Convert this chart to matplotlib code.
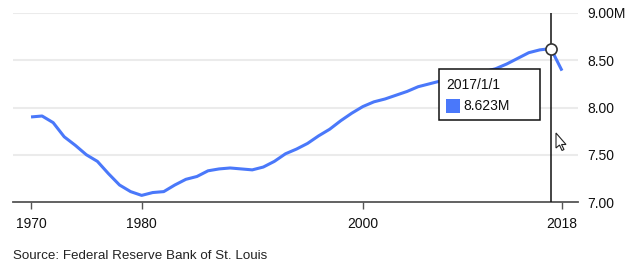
import matplotlib
matplotlib.use("Agg")
import matplotlib.pyplot as plt
from matplotlib.patches import Rectangle, Polygon

years = list(range(1970, 2019))
population_m = [
    7.90, 7.91, 7.84, 7.69, 7.60, 7.50, 7.43, 7.30, 7.18, 7.11,
    7.07, 7.10, 7.11, 7.18, 7.24, 7.27, 7.33, 7.35, 7.36, 7.35,
    7.34, 7.37, 7.43, 7.51, 7.56, 7.62, 7.70, 7.77, 7.86, 7.94,
    8.01, 8.06, 8.09, 8.13, 8.17, 8.22, 8.25, 8.28, 8.31, 8.33,
    8.36, 8.38, 8.41, 8.46, 8.52, 8.58, 8.61, 8.623, 8.39,
]
xtick_years = [1970, 1980, 2000, 2018]
xtick_labels = ["1970", "1980", "2000", "2018"]
ytick_values = [7.0, 7.5, 8.0, 8.5, 9.0]
ytick_labels = ["7.00", "7.50", "8.00", "8.50", "9.00M"]
hover_year = 2017
hover_label = "2017/1/1"
hover_value_label = "8.623M"
source_text = "Source: Federal Reserve Bank of St. Louis"

plt.rcParams['font.family'] = ['Liberation Sans', 'DejaVu Sans']

W, H = 635, 270
fig = plt.figure(figsize=(W / 100, H / 100), dpi=100)
ax = fig.add_axes([13 / W, (H - 202) / H, 565 / W, 189 / H])

LINE = "#4a78fa"
ax.plot(years, population_m, color=LINE, lw=2.2, solid_capstyle="butt",
        solid_joinstyle="round", zorder=3)

ax.set_xlim(1968.37, 2019.45)
ax.set_ylim(7.0, 9.0)

for v in ytick_values[1:]:
    ax.axhline(v, color="#ebebeb", lw=1.5, zorder=1)

for s in ["top", "left", "right"]:
    ax.spines[s].set_visible(False)
ax.spines["bottom"].set_color("#555555")
ax.spines["bottom"].set_linewidth(1.3)

ax.set_xticks(xtick_years)
ax.set_xticklabels(xtick_labels, fontsize=10, color="#111111")
ax.tick_params(axis="x", length=5, width=1, color="#555555", pad=6)

ax.yaxis.tick_right()
ax.set_yticks(ytick_values)
ax.set_yticklabels(ytick_labels, fontsize=10, color="#111111")
ax.tick_params(axis="y", length=0, pad=7)

# hover line and marker
hover_idx = years.index(hover_year)
ax.axvline(hover_year, color="#111111", lw=1.1, zorder=4)
ax.plot([hover_year], [population_m[hover_idx]], marker="o", ms=8,
        mfc="white", mec="#333333", mew=1.2, zorder=6)

# tooltip (figure pixel coordinates)
def fx(px):
    return px / W

def fy(py):
    return (H - py) / H

fig.patches.append(Rectangle((fx(439), fy(120)), 101 / W, 51 / H,
                             transform=fig.transFigure, facecolor="white",
                             edgecolor="#111111", lw=1.1, zorder=10))
fig.text(fx(446), fy(85), hover_label, fontsize=10, va="center", ha="left",
         color="#111111", zorder=11)
fig.patches.append(Rectangle((fx(446), fy(113)), 14 / W, 13.5 / H,
                             transform=fig.transFigure, facecolor=LINE,
                             edgecolor="none", zorder=11))
fig.text(fx(463), fy(106.5), hover_value_label, fontsize=10, va="center",
         ha="left", color="#111111", zorder=11)

# mouse cursor
cur = [(556, 133), (556, 148), (559.5, 145), (562, 150.5), (564, 149.5),
       (561.5, 144.5), (566, 144.5)]
fig.patches.append(Polygon([(fx(x), fy(y)) for x, y in cur], closed=True,
                           transform=fig.transFigure, facecolor="white",
                           edgecolor="#222222", lw=0.8, zorder=12))

fig.text(fx(13), fy(256), source_text, fontsize=9.6, va="center", ha="left",
         color="#222222")

fig.savefig("out.png", dpi=100)
